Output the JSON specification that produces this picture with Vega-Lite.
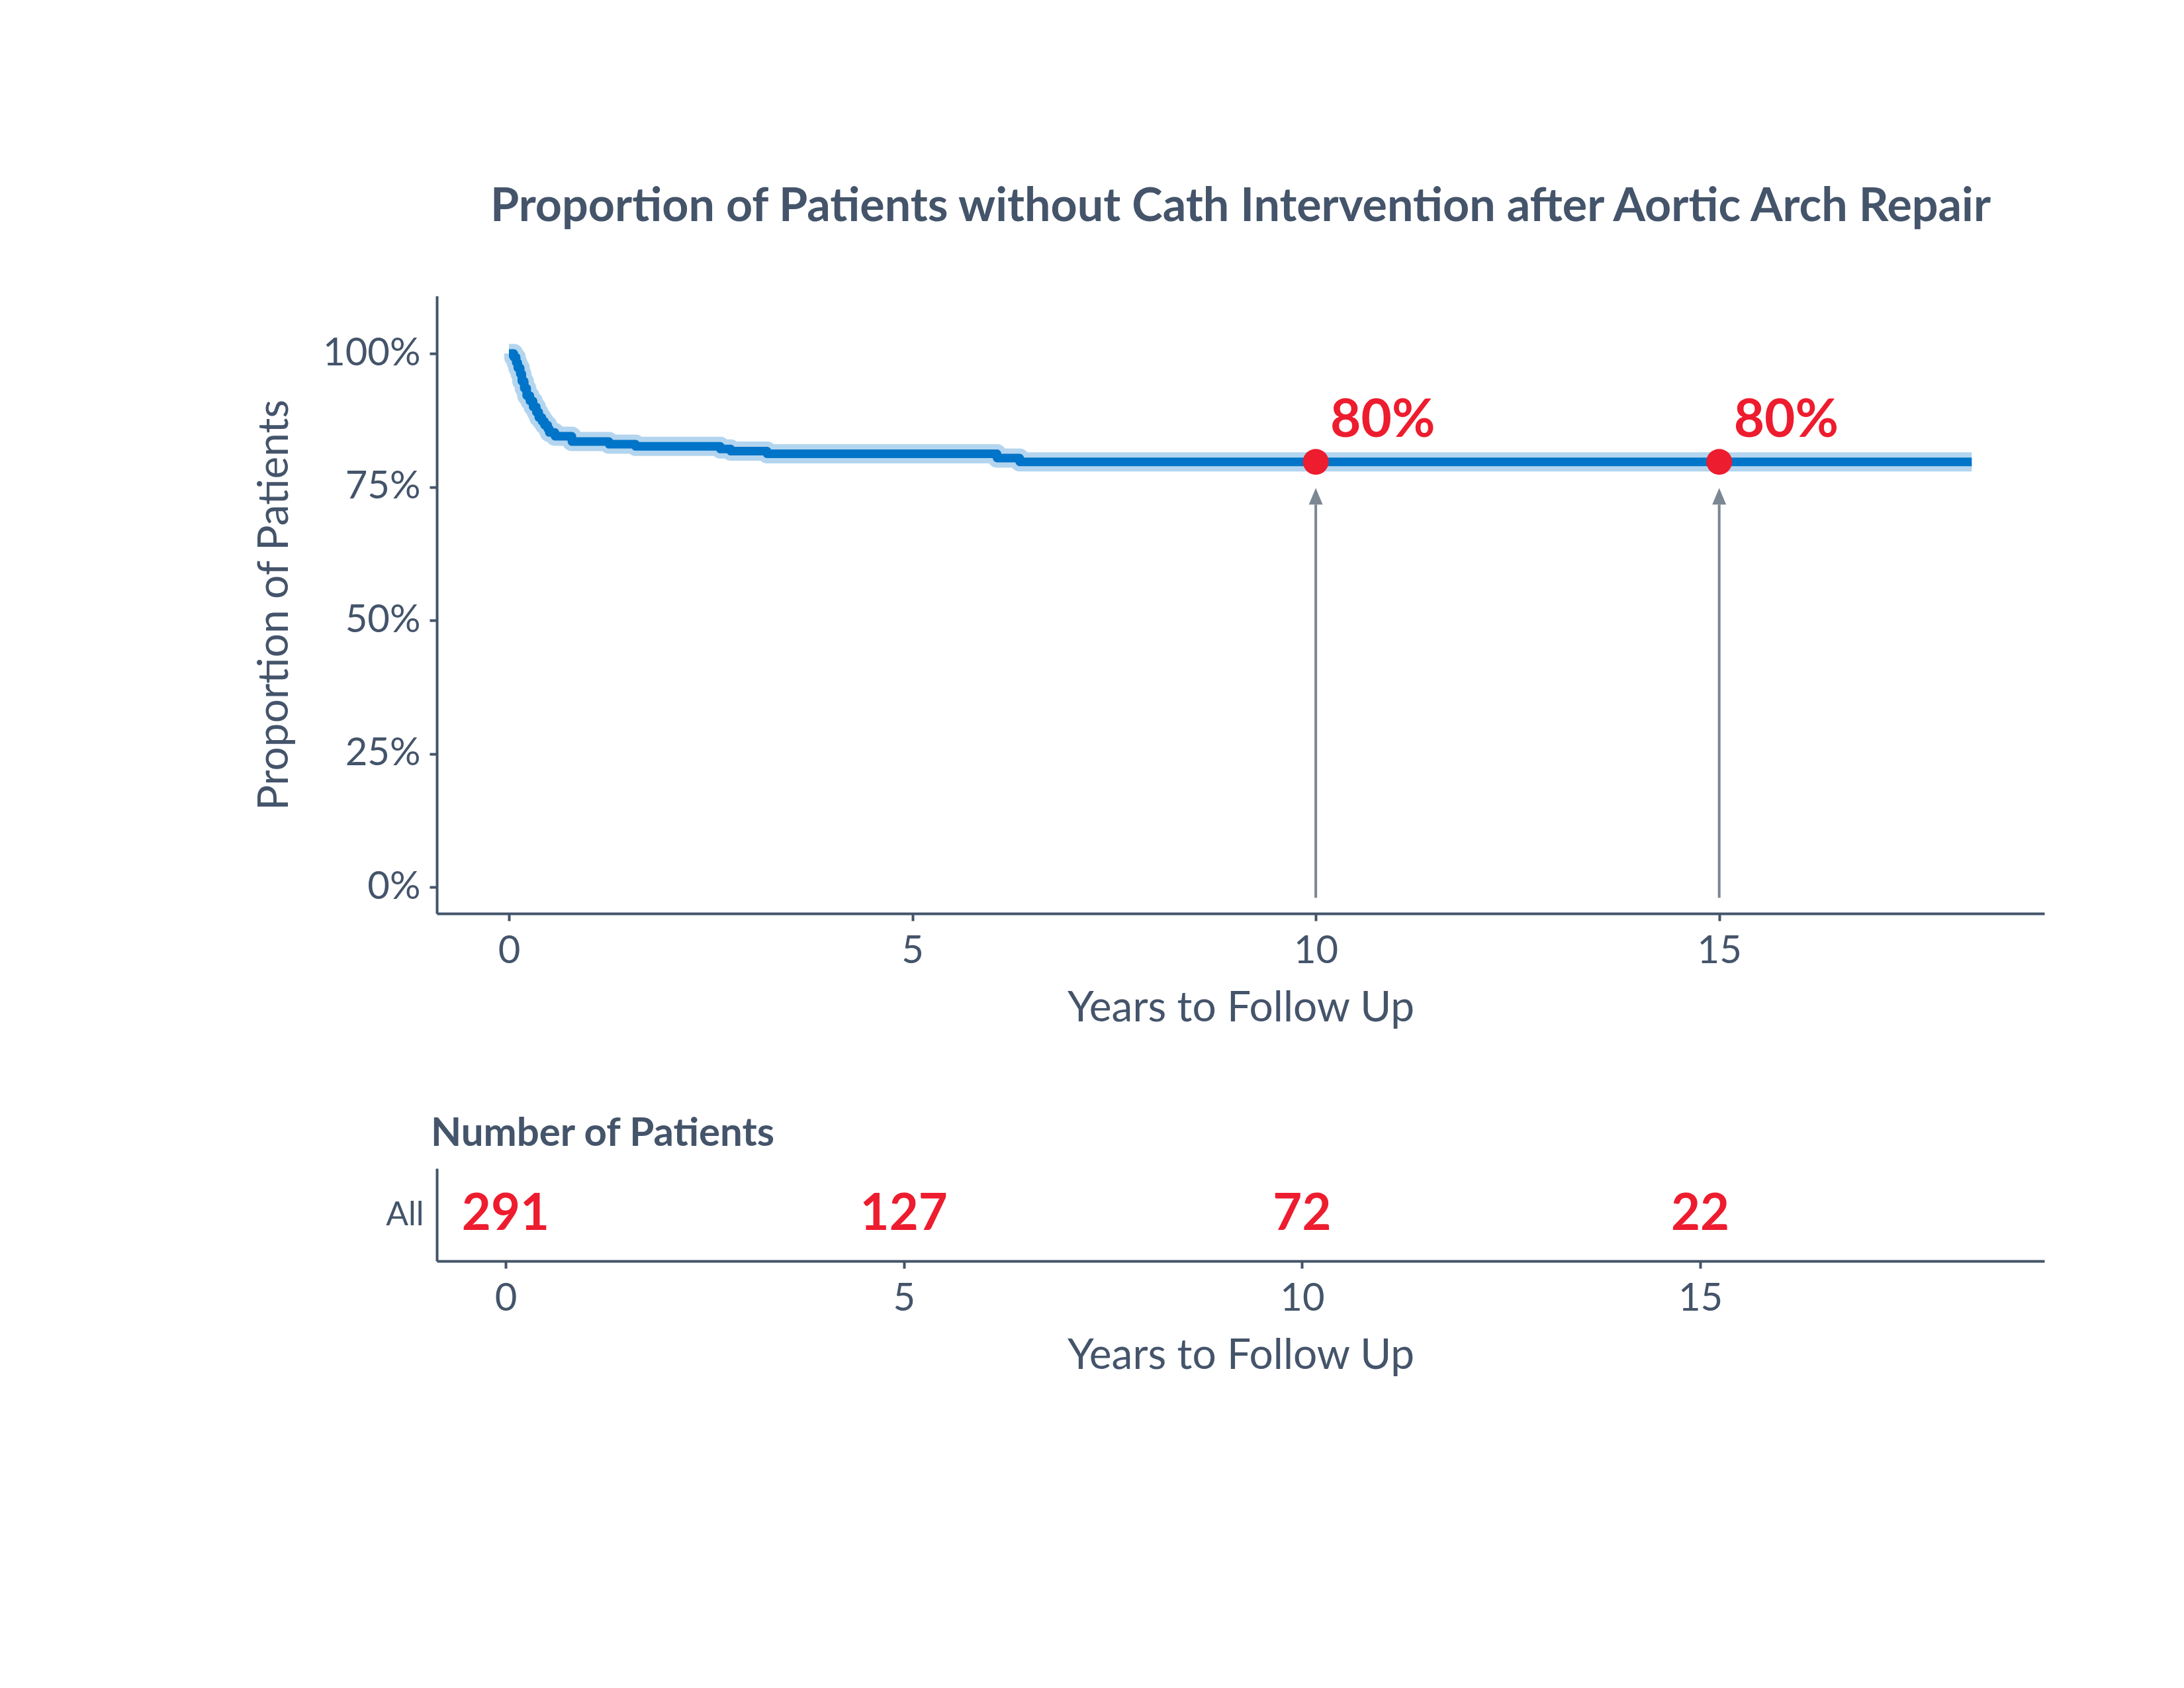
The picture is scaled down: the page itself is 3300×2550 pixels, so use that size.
{
  "$schema": "https://vega.github.io/schema/vega-lite/v6.json",
  "background": "white",
  "padding": {"top": 278, "left": 383, "right": 200, "bottom": 200},
  "config": {
    "font": "Lato",
    "view": {"stroke": null},
    "axis": {
      "grid": false,
      "domainColor": "#44546A",
      "domainWidth": 4,
      "tickColor": "#44546A",
      "tickWidth": 4,
      "tickSize": 11,
      "labelColor": "#44546A",
      "labelFont": "Lato",
      "labelFontSize": 58,
      "titleColor": "#44546A",
      "titleFont": "Lato",
      "titleFontSize": 64,
      "titleFontWeight": "normal"
    }
  },
  "datasets": {
    "km": [
      {"t": 0, "surv": 1.0},
      {"t": 0.06, "surv": 0.993},
      {"t": 0.09, "surv": 0.983},
      {"t": 0.11, "surv": 0.973},
      {"t": 0.14, "surv": 0.962},
      {"t": 0.16, "surv": 0.948},
      {"t": 0.19, "surv": 0.935},
      {"t": 0.22, "surv": 0.921},
      {"t": 0.26, "surv": 0.911},
      {"t": 0.3, "surv": 0.9},
      {"t": 0.34, "surv": 0.89},
      {"t": 0.37, "surv": 0.88},
      {"t": 0.41, "surv": 0.873},
      {"t": 0.44, "surv": 0.866},
      {"t": 0.48, "surv": 0.859},
      {"t": 0.5, "surv": 0.852},
      {"t": 0.57, "surv": 0.845},
      {"t": 0.78, "surv": 0.835},
      {"t": 1.24, "surv": 0.83},
      {"t": 1.57, "surv": 0.826},
      {"t": 2.62, "surv": 0.821},
      {"t": 2.75, "surv": 0.817},
      {"t": 3.2, "surv": 0.812},
      {"t": 6.05, "surv": 0.804},
      {"t": 6.33, "surv": 0.797},
      {"t": 18.13, "surv": 0.797}
    ],
    "milestones": [
      {"t": 10, "surv": 0.797, "label": "80%", "arrow_base": -0.02, "arrow_top": 0.717, "arrow_tip": 0.748},
      {"t": 15, "surv": 0.797, "label": "80%", "arrow_base": -0.02, "arrow_top": 0.717, "arrow_tip": 0.748}
    ],
    "risk": [
      {"t": 0, "group": "All", "n": 291},
      {"t": 5, "group": "All", "n": 127},
      {"t": 10, "group": "All", "n": 72},
      {"t": 15, "group": "All", "n": 22}
    ]
  },
  "spacing": 128,
  "vconcat": [
    {
      "width": 2429,
      "height": 933,
      "title": {
        "text": "Proportion of Patients without Cath Intervention after Aortic Arch Repair",
        "anchor": "middle",
        "frame": "group",
        "font": "Lato",
        "fontSize": 70,
        "fontWeight": "bold",
        "color": "#44546A",
        "baseline": "bottom",
        "offset": 28
      },
      "encoding": {
        "x": {
          "field": "t",
          "type": "quantitative",
          "title": "Years to Follow Up",
          "scale": {"domain": [-0.894, 19.03], "nice": false, "zero": false},
          "axis": {"values": [0, 5, 10, 15], "labelPadding": 17, "titlePadding": 25}
        },
        "y": {
          "field": "surv",
          "type": "quantitative",
          "title": "Proportion of Patients",
          "scale": {"domain": [-0.0496, 1.108], "nice": false, "zero": false},
          "axis": {"values": [0, 0.25, 0.5, 0.75, 1], "format": ".0%", "labelPadding": 14, "titlePadding": 40}
        }
      },
      "layer": [
        {
          "data": {"name": "km"},
          "mark": {"type": "line", "interpolate": "step-after", "color": "#B3D5EF", "strokeWidth": 29, "strokeJoin": "round"}
        },
        {
          "data": {"name": "km"},
          "mark": {"type": "line", "interpolate": "step-after", "color": "#0074C8", "strokeWidth": 13, "strokeJoin": "round"}
        },
        {
          "data": {"name": "milestones"},
          "mark": {"type": "rule", "color": "#7B8793", "strokeWidth": 4},
          "encoding": {
            "y": {"field": "arrow_base", "type": "quantitative"},
            "y2": {"field": "arrow_top"}
          }
        },
        {
          "data": {"name": "milestones"},
          "mark": {"type": "point", "shape": "M0,0L-0.42,1L0.42,1Z", "filled": true, "color": "#7B8793", "opacity": 1, "size": 2500},
          "encoding": {
            "y": {"field": "arrow_tip", "type": "quantitative"}
          }
        },
        {
          "data": {"name": "milestones"},
          "mark": {"type": "circle", "color": "#ED1C2E", "opacity": 1, "size": 1520}
        },
        {
          "data": {"name": "milestones"},
          "mark": {"type": "text", "align": "left", "baseline": "alphabetic", "dx": 22, "dy": -38, "fontSize": 80, "fontWeight": "bold", "color": "#ED1C2E"},
          "encoding": {"text": {"field": "label"}}
        }
      ]
    },
    {
      "width": 2429,
      "height": 140,
      "data": {"name": "risk"},
      "title": {
        "text": "Number of Patients",
        "anchor": "start",
        "frame": "group",
        "font": "Lato",
        "fontSize": 60,
        "fontWeight": "bold",
        "color": "#44546A",
        "baseline": "bottom",
        "offset": -39,
        "dx": -9
      },
      "mark": {"type": "text", "fontSize": 76, "fontWeight": "bold", "color": "#ED1C2E", "baseline": "middle"},
      "encoding": {
        "x": {
          "field": "t",
          "type": "quantitative",
          "title": "Years to Follow Up",
          "scale": {"domain": [-0.864, 19.32], "nice": false, "zero": false},
          "axis": {"values": [0, 5, 10, 15], "labelPadding": 17, "titlePadding": 25}
        },
        "y": {
          "field": "group",
          "type": "nominal",
          "title": null,
          "axis": {"ticks": false, "labelPadding": 20, "labelFontSize": 50}
        },
        "text": {"field": "n", "type": "quantitative"}
      }
    }
  ]
}
